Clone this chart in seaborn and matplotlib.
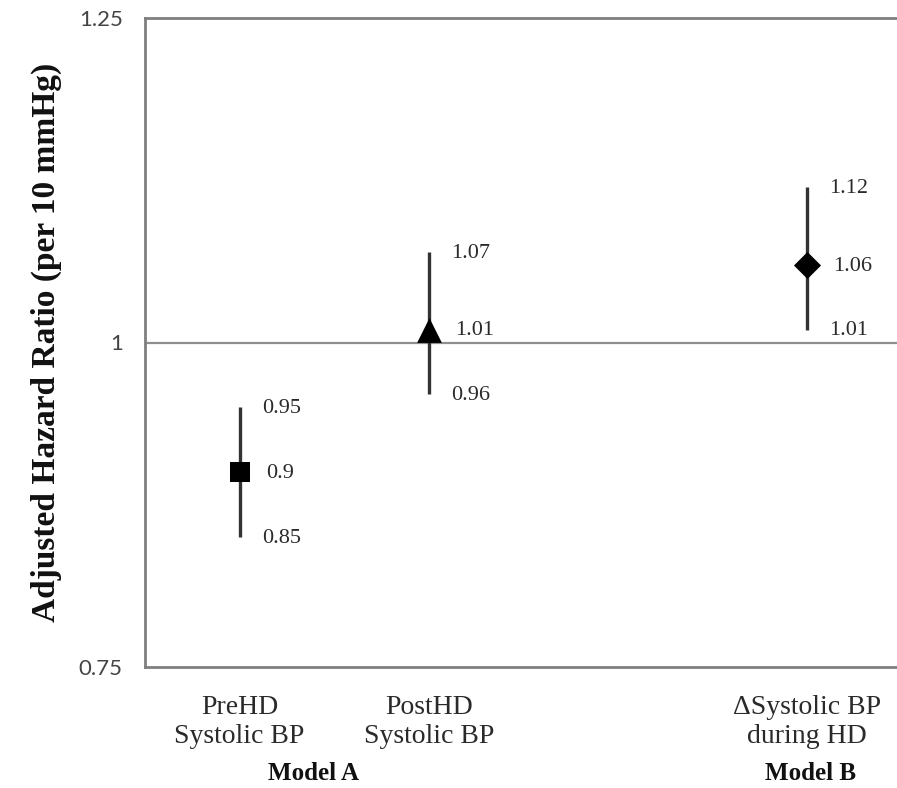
import matplotlib
matplotlib.use("Agg")
import matplotlib.pyplot as plt
import seaborn as sns
import pandas as pd

# ---- data ----
categories = ["PreHD\nSystolic BP", "PostHD\nSystolic BP", "\u0394Systolic BP\nduring HD"]
models = ["Model A", "Model B"]
hr = [0.90, 1.01, 1.06]
lower = [0.85, 0.96, 1.01]
upper = [0.95, 1.07, 1.12]
hr_labels = ["0.9", "1.01", "1.06"]
lower_labels = ["0.85", "0.96", "1.01"]
upper_labels = ["0.95", "1.07", "1.12"]
yticks = [0.75, 1.0, 1.25]
ytick_labels = ["0.75", "1", "1.25"]

sns.set_theme(style="white")
plt.rcParams["font.family"] = ["Liberation Serif", "DejaVu Serif"]

W, H = 897, 788
fig = plt.figure(figsize=(W / 100, H / 100), dpi=100)
ax = fig.add_axes([145 / W, (H - 667) / H, (897 - 145) / W, (667 - 18) / H])

# slot positions (gap between model A and model B)
x_pos = [0, 1, 3]
df = pd.DataFrame({"x": x_pos, "hr": hr, "lo": lower, "hi": upper, "cat": categories})

# reference line at HR = 1
ax.axhline(1.0, color="#8f8f8f", lw=1.6, zorder=1)

# confidence interval lines
ax.vlines(df["x"], df["lo"], df["hi"], color="#333333", lw=2.4, zorder=2)

markers = {categories[0]: "s", categories[1]: "^", categories[2]: "D"}
sizes = {categories[0]: 200, categories[1]: 320, categories[2]: 190}
for c in categories:
    sub = df[df["cat"] == c]
    sns.scatterplot(data=sub, x="x", y="hr", marker=markers[c], s=sizes[c],
                    color="black", edgecolor="black", linewidth=0, ax=ax,
                    zorder=3, legend=False)

# value annotations
lab_kw = dict(textcoords="offset points", va="center", ha="left",
              fontsize=16, color="#2a2a2a")
for i in range(len(x_pos)):
    ax.annotate(upper_labels[i], (x_pos[i], upper[i]), xytext=(16, -1), **lab_kw)
    ax.annotate(hr_labels[i], (x_pos[i], hr[i]), xytext=(19, -1), **lab_kw)
    ax.annotate(lower_labels[i], (x_pos[i], lower[i]), xytext=(16, -1), **lab_kw)

ax.set_ylim(0.75, 1.25)
ax.set_xlim(-0.5, 3.475)
ax.set_yticks(yticks)
ax.set_yticklabels(ytick_labels, fontsize=16, color="#444444",
                   family=["Lato", "DejaVu Sans"])
ax.set_xticks(x_pos)
ax.set_xticklabels(categories, fontsize=20, color="#2a2a2a", linespacing=1.2)
ax.tick_params(axis="both", length=0)
ax.tick_params(axis="y", pad=16)
ax.tick_params(axis="x", pad=20)
ax.set_xlabel("")
ax.set_ylabel("Adjusted Hazard Ratio (per 10 mmHg)", fontsize=24,
              fontweight="bold", color="#111111")
ax.yaxis.label.set_va("center")
ax.yaxis.set_label_coords((46 - 145) / (897 - 145), 0.5)

# model group labels (Model A centred under its two predictors)
model_x = [0.39, 3.02]
for m, xp in zip(models, model_x):
    ax.annotate(m, (xp, 0.75), xytext=(0, -107), textcoords="offset pixels",
                ha="center", va="center", fontsize=18, fontweight="bold",
                color="#111111", annotation_clip=False)

for s in ["left", "bottom", "top"]:
    ax.spines[s].set_color("#7f7f7f")
    ax.spines[s].set_linewidth(2)
ax.spines["right"].set_visible(False)

fig.savefig("out.png", dpi=100)
